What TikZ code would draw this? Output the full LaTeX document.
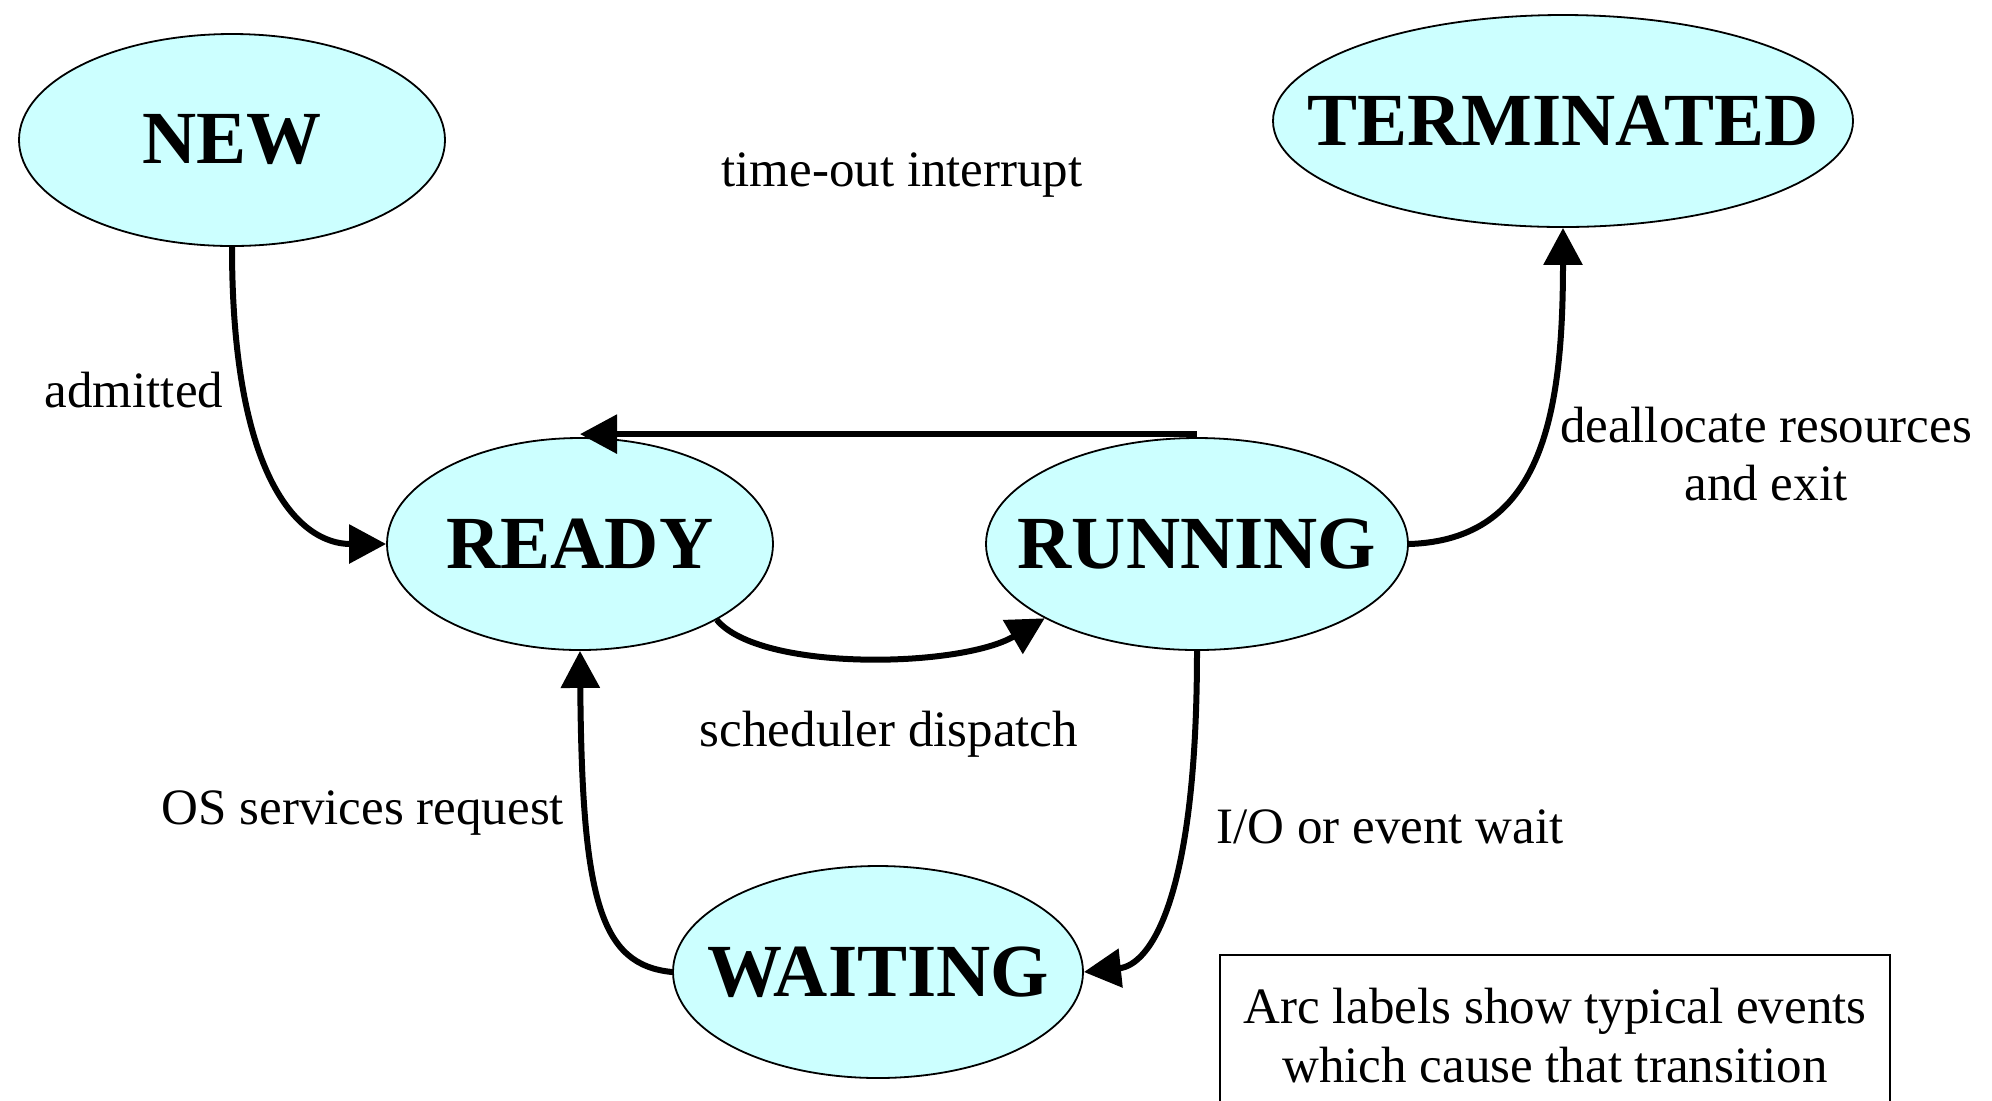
\documentclass[tikz,border=0pt]{standalone}
\usepackage{fontspec}
\setmainfont{Liberation Serif}
\usetikzlibrary{shapes.geometric,arrows.meta}
\definecolor{statefill}{RGB}{204,255,255}
% state name set in a zero-width box so the ellipse size comes from the style alone
\newcommand\statename[1]{\makebox[0pt]{#1}}
\begin{document}
\begin{tikzpicture}[x=0.5pt,y=-0.5pt,
  state/.style={ellipse,draw=black,line width=0.9pt,fill=statefill,inner sep=0pt,
    minimum height=106pt,font=\fontsize{37.5}{40}\selectfont\bfseries},
  trans/.style={line width=3pt,-{Triangle[length=18.5pt,width=19pt]}},
  lbl/.style={font=\fontsize{25.5}{29}\selectfont,inner sep=0pt},
]
\useasboundingbox (0,0) rectangle (1992,1100);
\clip (0,0) rectangle (1992,1100);

% process states
\node[state,minimum width=213pt] (new)  at (232,140)  {\statename{NEW}};
\node[state,minimum width=290pt] (term) at (1563,121) {\statename{TERMINATED}};
\node[state,minimum width=193pt] (ready) at (580,544) {\statename{READY}};
\node[state,minimum width=211pt] (run)  at (1197,544) {\statename{RUNNING}};
\node[state,minimum width=205pt] (wait) at (878,972)  {\statename{WAITING}};

% transitions
\draw[trans] (new.south) .. controls (232,480) and (300,544) .. (ready.west);
\draw[trans] ([yshift=1.5pt]run.north) -- ([yshift=1.5pt]ready.north);
\draw[trans] (ready.-29) .. controls (760,672) and (960,668) .. (run.-154);
\draw[trans] (run.east) .. controls (1540,540) and (1563,420) .. (term.south);
\draw[trans] (run.south) .. controls (1197,900) and (1150,965) .. (wait.east);
\draw[trans] (wait.west) .. controls (600,965) and (582,900) .. (ready.south);

% transition labels
\node[lbl] (ltimeout) at (902,175) {time-out interrupt};
\node[lbl] (ladmit) at (134,390) {admitted};
\node[lbl] (ldispatch) at (889,734) {scheduler dispatch};
\node[lbl,align=center] (lexit) at (1766,454) {deallocate resources\\and exit};
\node[lbl,anchor=west] (lio) at (1216,827) {I/O or event wait};
\node[lbl] (los) at (363,813) {OS services request};

% legend note
\draw[line width=1pt] (1220,955) rectangle (1890,1140);
\node[lbl,align=center,font=\fontsize{25.5}{29.5}\selectfont] (note) at (1555,1036)
  {Arc labels show typical events\\which cause that transition};
\end{tikzpicture}
\end{document}
